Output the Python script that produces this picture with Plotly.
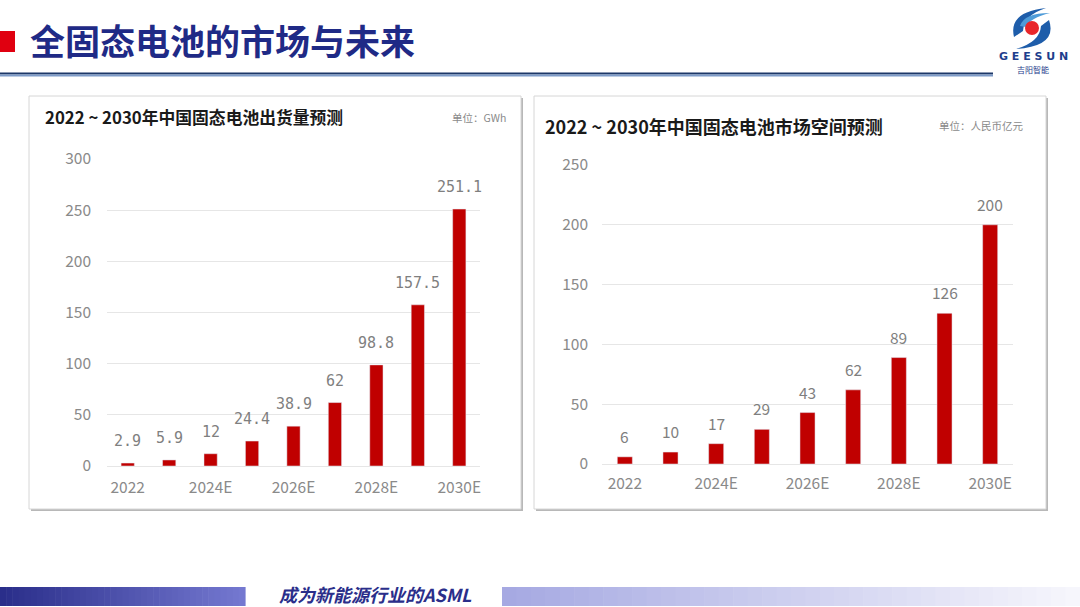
import plotly.graph_objects as go

W, H = 1080, 607

# ---------------- data ----------------
categories = ["2022", "2023E", "2024E", "2025E", "2026E", "2027E", "2028E", "2029E", "2030E"]
shipments_gwh = [2.9, 5.9, 12, 24.4, 38.9, 62, 98.8, 157.5, 251.1]
market_yi_yuan = [6, 10, 17, 29, 43, 62, 89, 126, 200]
tick_categories = ["2022", "2024E", "2026E", "2028E", "2030E"]
left_yticks = [0, 50, 100, 150, 200, 250, 300]
right_yticks = [0, 50, 100, 150, 200, 250]

page_title = "全固态电池的市场与未来"
left_title = "2022 ~ 2030年中国固态电池出货量预测"
left_unit = "单位：GWh"
right_title = "2022 ~ 2030年中国固态电池市场空间预测"
right_unit = "单位：人民币亿元"
footer_text = "成为新能源行业的ASML"

CJK = "Noto Sans CJK SC"
RED = "#C00000"
NAVY = "#1F2A86"
TICK_GREY = "#8A8A8A"


def px(x):
    return x / W


def py(y):
    return 1 - y / H


def path(points, close=True):
    s = ""
    for cmd, coords in points:
        pts = " ".join(f"{px(coords[j]):.5f},{py(coords[j+1]):.5f}" for j in range(0, len(coords), 2))
        s += f"{cmd} {pts} "
    if close:
        s += "Z"
    return s


shapes = []
annotations = []


def rect(x0, y0, x1, y1, fill, line_color=None, line_width=0, layer="below"):
    shapes.append(dict(type="rect", xref="paper", yref="paper",
                       x0=px(x0), x1=px(x1), y0=py(y1), y1=py(y0),
                       fillcolor=fill, layer=layer,
                       line=dict(color=line_color or fill, width=line_width)))


def text(x, y, s, size, color, xanchor="left", yanchor="middle", family=CJK, bold=False, italic=False,
         borderpad=1):
    if bold:
        s = f"<b>{s}</b>"
    if italic:
        s = f"<i>{s}</i>"
    annotations.append(dict(xref="paper", yref="paper", x=px(x), y=py(y), text=s,
                            showarrow=False, xanchor=xanchor, yanchor=yanchor,
                            borderpad=borderpad, borderwidth=0,
                            font=dict(size=size, color=color, family=family)))


# ---------------- header ----------------
rect(0, 31, 15, 52, "#E00010")
text(29, 40, page_title, 35, NAVY, bold=True)
rect(0, 72.5, 993, 74.5, "#1D3768")
rect(0, 74.5, 993, 76.5, "#7E9BC8")

# logo (decorative)
shapes.append(dict(type="path", xref="paper", yref="paper", layer="above",
                   path=path([("M", (1014, 37)), ("Q", (1008, 12, 1046, 8)), ("Q", (1024, 15, 1023, 31))]),
                   fillcolor="#1E5DAA", line=dict(width=0)))
shapes.append(dict(type="path", xref="paper", yref="paper", layer="above",
                   path=path([("M", (1020, 26)), ("Q", (1024, 13, 1050, 13)), ("Q", (1030, 18, 1026, 27))]),
                   fillcolor="#4E9BD8", line=dict(width=0)))
shapes.append(dict(type="path", xref="paper", yref="paper", layer="above",
                   path=path([("M", (1049, 20)), ("Q", (1058, 46, 1016, 49)), ("Q", (1040, 42, 1041, 26))]),
                   fillcolor="#1E5DAA", line=dict(width=0)))
shapes.append(dict(type="circle", xref="paper", yref="paper", layer="above",
                   x0=px(1025), x1=px(1039), y0=py(35), y1=py(21),
                   fillcolor="#E8262A", line=dict(width=0)))
text(1033, 57, "G E E S U N", 11, "#1E3E8C", xanchor="center", family="DejaVu Sans", bold=True)
text(1033, 69, "吉阳智能", 8, "#1E3E8C", xanchor="center")

# ---------------- footer ----------------
def lerp(c1, c2, t):
    return "#" + "".join(f"{int(round(a + (b - a) * t)):02x}" for a, b in zip(c1, c2))


n = 40
for i in range(n):
    x0 = 245 * i / n
    x1 = 245 * (i + 1) / n + 0.6
    rect(x0, 587, x1, 606, lerp((0x2A, 0x2E, 0x8A), (0x74, 0x78, 0xD0), i / (n - 1)))
for i in range(n):
    x0 = 502 + 578 * i / n
    x1 = 502 + 578 * (i + 1) / n + 0.6
    rect(x0, 587, x1, 606, lerp((0xA6, 0xA9, 0xE2), (0xF6, 0xF6, 0xFC), i / (n - 1)))
text(375, 606.5, footer_text, 18, "#2A2E8A", xanchor="center", yanchor="bottom",
     bold=True, italic=True, borderpad=0)

# ---------------- panels ----------------
for (x0, x1) in [(29, 521), (534, 1046)]:
    rect(x0 + 2, 98, x1 + 2, 511, "#B8B8B8")
    rect(x0, 96, x1, 509, "#FFFFFF", line_color="#D6D6D6", line_width=1)

text(44, 117, left_title, 16.8, "#1A1A1A", bold=True)
text(507, 117, left_unit, 10.5, "#8A8A8A", xanchor="right")
text(544, 126, right_title, 18, "#1A1A1A", bold=True)
text(1025, 125, right_unit, 10.5, "#8A8A8A", xanchor="right")

# ---------------- charts ----------------
fig = go.Figure()
fig.add_trace(go.Bar(x=categories, y=shipments_gwh, marker_color=RED, width=0.32,
                     xaxis="x", yaxis="y", hoverinfo="x+y", showlegend=False))
fig.add_trace(go.Bar(x=categories, y=market_yi_yuan, marker_color=RED, width=0.33,
                     xaxis="x2", yaxis="y2", hoverinfo="x+y", showlegend=False))

for i, v in enumerate(shipments_gwh):
    annotations.append(dict(xref="x", yref="y", x=i, y=v, text=f"{v:g}", showarrow=False,
                            yanchor="middle", yshift=22,
                            font=dict(size=15, color="#7F7F7F", family="DejaVu Sans Mono")))
for i, v in enumerate(market_yi_yuan):
    annotations.append(dict(xref="x2", yref="y2", x=i, y=v, text=f"{v:g}", showarrow=False,
                            yanchor="middle", yshift=21,
                            font=dict(size=15.5, color="#7F7F7F", family=CJK)))

tick_font = dict(size=15.5, color=TICK_GREY, family=CJK)
xcommon = dict(type="category", categoryorder="array", categoryarray=categories,
               tickmode="array", tickvals=tick_categories, ticktext=tick_categories,
               range=[-0.5, len(categories) - 0.5], showgrid=False, showline=False,
               zeroline=False, ticks="", tickfont=tick_font, fixedrange=True, automargin=False)
ycommon = dict(showgrid=True, gridcolor="#E6E6E6", gridwidth=1, zeroline=True,
               zerolinecolor="#E6E6E6", zerolinewidth=1, showline=False, ticks="",
               tickmode="array", tickfont=tick_font, fixedrange=True, automargin=False)

fig.update_layout(
    width=W, height=H,
    autosize=False,
    margin=dict(l=0, r=0, t=0, b=0, pad=0, autoexpand=False),
    paper_bgcolor="#FFFFFF",
    plot_bgcolor="rgba(0,0,0,0)",
    showlegend=False,
    xaxis=dict(xcommon, domain=[px(107), px(480)], anchor="y", ticklabelstandoff=10),
    yaxis=dict(ycommon, domain=[py(466), py(159)], anchor="x", range=[0, 300],
               tickvals=left_yticks, ticklabelstandoff=15),
    xaxis2=dict(xcommon, domain=[px(602), px(1013)], anchor="y2", ticklabelstandoff=8),
    yaxis2=dict(ycommon, domain=[py(464), py(165)], anchor="x2", range=[0, 250],
                tickvals=right_yticks, ticklabelstandoff=13),
    shapes=shapes,
    annotations=annotations,
    font=dict(family=CJK),
)

fig.write_html(
    "out.html",
    config={"displayModeBar": False},
    post_script="document.body.style.margin='0';document.body.style.overflow='hidden';",
)
